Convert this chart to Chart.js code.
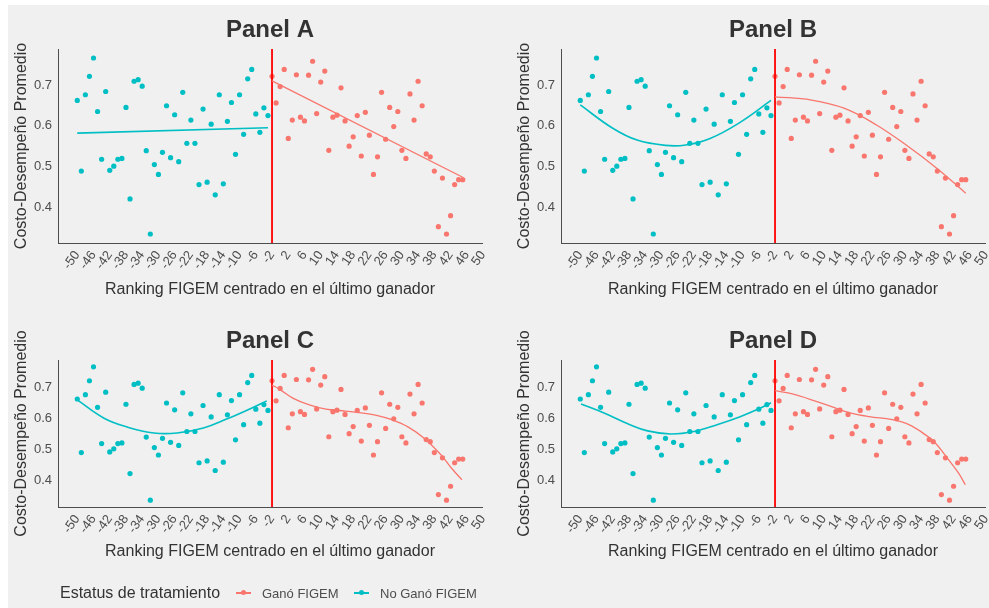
<!DOCTYPE html>
<html>
<head>
<meta charset="utf-8">
<script src="https://cdn.jsdelivr.net/npm/chart.js@4.4.0/dist/chart.umd.min.js"></script>
<style>
  html, body { margin: 0; padding: 0; width: 989px; height: 608px; overflow: hidden; background: #ffffff;
               font-family: "Liberation Sans", Arial, sans-serif; }
  #bg { position: absolute; left: 8px; top: 5px; width: 981px; height: 603px; background: #f0f0f0; }
  canvas.panel { position: absolute; }
  .lg { position: absolute; white-space: nowrap; line-height: 1; }
  .lg-title { left: 60px; top: 585px; font-size: 16px; color: #333333; }
  .lg-text { top: 587px; font-size: 13px; color: #4d4d4d; }
  .sw { position: absolute; top: 592px; width: 15px; height: 2px; }
  .sw i { position: absolute; left: 5px; top: -2px; width: 5px; height: 5px; border-radius: 50%; }
</style>
</head>
<body>
<div id="bg"></div>
<canvas id="pA" class="panel" width="486" height="310" style="left:0px;top:0px"></canvas>
<canvas id="pB" class="panel" width="486" height="310" style="left:503px;top:0px"></canvas>
<canvas id="pC" class="panel" width="486" height="297" style="left:0px;top:311px"></canvas>
<canvas id="pD" class="panel" width="486" height="297" style="left:503px;top:311px"></canvas>

<div class="lg lg-title">Estatus de tratamiento</div>
<div class="sw" style="left:236px;background:#F8766D"><i style="background:#F8766D"></i></div>
<div class="lg lg-text" style="left:262px">Ganó FIGEM</div>
<div class="sw" style="left:354px;background:#00BFC4"><i style="background:#00BFC4"></i></div>
<div class="lg lg-text" style="left:380px">No Ganó FIGEM</div>

<script>
// Ranking positions relative to the last winner
const rankNoWin = [-48,-47,-46,-45,-44,-43,-42,-41,-40,-39,-38,-37,-36,-35,-34,-33,-32,-31,-30,-29,-28,-27,-26,-25,
                   -24,-23,-22,-21,-20,-19,-18,-17,-16,-15,-14,-13,-12,-11,-10,-9,-8,-7,-6,-5,-4,-3,-2,-1];
const rankWin   = [0,1,2,3,4,5,6,7,8,9,10,11,12,13,14,15,16,17,18,19,20,21,22,23,
                   24,25,26,27,28,29,30,31,32,33,34,35,36,37,38,39,40,41,42,43,44,45,46,47];

// Average cost-performance per ranking position
const costNoWin = [0.662,0.489,0.676,0.721,0.766,0.635,0.518,0.684,0.491,0.501,0.518,0.520,0.645,0.421,0.709,0.713,
                   0.697,0.539,0.335,0.505,0.481,0.535,0.649,0.522,0.627,0.512,0.682,0.557,0.614,0.557,0.456,0.641,
                   0.462,0.604,0.431,0.676,0.458,0.611,0.657,0.530,0.676,0.579,0.715,0.738,0.629,0.584,0.644,0.625];
const costWin   = [0.721,0.656,0.696,0.738,0.569,0.614,0.725,0.621,0.612,0.724,0.758,0.630,0.707,0.734,0.540,0.621,
                   0.626,0.693,0.612,0.550,0.573,0.625,0.526,0.633,0.577,0.481,0.524,0.682,0.567,0.645,0.598,0.635,
                   0.540,0.520,0.678,0.614,0.709,0.649,0.531,0.524,0.489,0.353,0.472,0.335,0.380,0.456,0.468,0.468];

// Fitted curves for each panel (A: linear, B: quadratic, C: polynomial, D: local smoother)
const fitA_noWinX = [-48, -1];
const fitA_noWinY = [0.582, 0.595];
const fitA_winX   = [0, 47];
const fitA_winY   = [0.710, 0.474];

const fitB_noWinX = [-48, -40, -34, -27, -22, -16, -9, -1];
const fitB_noWinY = [0.651, 0.594, 0.565, 0.552, 0.553, 0.569, 0.606, 0.662];
const fitB_winX   = [0, 9, 17, 25, 33, 40, 47];
const fitB_winY   = [0.671, 0.663, 0.643, 0.602, 0.548, 0.495, 0.435];

const fitC_noWinX = [-48, -41.4, -35.6, -29.1, -23.4, -16.9, -11.2, -6.3, -1.3];
const fitC_noWinY = [0.659, 0.600, 0.571, 0.552, 0.552, 0.568, 0.597, 0.625, 0.656];
const fitC_winX   = [0, 1.8, 5.1, 9.2, 13.3, 17.3, 21.4, 25.5, 29.5, 33.6, 37.7, 41.8, 44.2, 46.8];
const fitC_winY   = [0.707, 0.694, 0.665, 0.643, 0.629, 0.624, 0.618, 0.610, 0.595, 0.571, 0.533, 0.479, 0.439, 0.401];

const fitD_noWinX = [-47.8, -42, -36.3, -31.4, -25.7, -20, -14.3, -8.6, -3.7, -1];
const fitD_noWinY = [0.646, 0.616, 0.582, 0.559, 0.549, 0.557, 0.579, 0.605, 0.632, 0.650];
const fitD_winX   = [0, 4.5, 8.6, 14.3, 18.3, 23.2, 28.9, 33, 37.1, 39.5, 42, 45.2, 46.9];
const fitD_winY   = [0.689, 0.678, 0.661, 0.636, 0.618, 0.605, 0.595, 0.579, 0.546, 0.520, 0.479, 0.423, 0.385];

// Axis ticks
const xTicks = [-50,-46,-42,-38,-34,-30,-26,-22,-18,-14,-10,-6,-2,2,6,10,14,18,22,26,30,34,38,42,46,50];
const yTicks = [0.4, 0.5, 0.6, 0.7];
const cutoff = 0;

const RED = '#F8766D', TEAL = '#00BFC4';
const X_MIN = -52.75, X_MAX = 51.75, Y_MIN = 0.313, Y_MAX = 0.788;
const FONT = '"Liberation Sans", Arial, sans-serif';

const pairs = (xs, ys) => xs.map((x, i) => ({ x: x, y: ys[i] }));

function makePanel(id, title, fit, geom) {
  const datasets = [
    { type: 'line', data: pairs(fit.wx, fit.wy), borderColor: RED, borderWidth: 1.3,
      pointRadius: 0, tension: fit.smooth ? 0.4 : 0, fill: false, order: 0 },
    { type: 'line', data: pairs(fit.nx, fit.ny), borderColor: TEAL, borderWidth: 1.6,
      pointRadius: 0, tension: fit.smooth ? 0.4 : 0, fill: false, order: 0 },
    { type: 'line', data: [{ x: cutoff, y: Y_MIN }, { x: cutoff, y: Y_MAX }], borderColor: '#FF0000',
      borderWidth: 1.8, pointRadius: 0, fill: false, order: 1 },
    { type: 'scatter', data: pairs(rankWin, costWin), backgroundColor: RED, borderWidth: 0,
      pointRadius: 2.6, order: 2 },
    { type: 'scatter', data: pairs(rankNoWin, costNoWin), backgroundColor: TEAL, borderWidth: 0,
      pointRadius: 2.6, order: 2 }
  ];
  return new Chart(document.getElementById(id), {
    type: 'scatter',
    data: { datasets: datasets },
    options: {
      responsive: false, animation: false, devicePixelRatio: 1,
      layout: { padding: { left: 0, right: 4, top: 0, bottom: 0 } },
      plugins: {
        legend: { display: false },
        tooltip: { enabled: false },
        title: { display: true, text: title, fullSize: false, align: 'center', color: '#333333',
                 font: { family: FONT, size: 24, weight: 'bold', lineHeight: 1.2 },
                 padding: { top: 16, bottom: 4.2 } }
      },
      scales: {
        x: {
          type: 'linear', min: X_MIN, max: X_MAX,
          afterBuildTicks: s => { s.ticks = xTicks.map(v => ({ value: v })); },
          afterFit: s => { s.height = geom.H - geom.plotBottom; s.paddingLeft = 0; s.paddingRight = 0; },
          grid: { display: false, drawTicks: false },
          border: { display: true, color: '#4d4d4d', width: 1 },
          ticks: { autoSkip: false, minRotation: 55, maxRotation: 55, padding: 5, labelOffset: 8,
                   color: '#4d4d4d', font: { family: FONT, size: 13 }, callback: v => String(v) },
          title: { display: true, text: 'Ranking FIGEM centrado en el último ganador', color: '#333333',
                   font: { family: FONT, size: 16, lineHeight: 1.2 },
                   padding: { top: 0, bottom: geom.xTitlePad } }
        },
        y: {
          type: 'linear', min: Y_MIN, max: Y_MAX,
          afterBuildTicks: s => { s.ticks = yTicks.map(v => ({ value: v })); },
          afterFit: s => { s.width = 58; },
          grid: { display: false, drawTicks: false },
          border: { display: true, color: '#4d4d4d', width: 1 },
          ticks: { padding: 6, color: '#4d4d4d', font: { family: FONT, size: 13 }, callback: v => v.toFixed(1) },
          title: { display: true, text: 'Costo-Desempeño Promedio', color: '#333333',
                   font: { family: FONT, size: 16, lineHeight: 1.2 }, padding: { top: 11.9, bottom: 0 } }
        }
      }
    }
  });
}

const topRow = { H: 310, plotBottom: 243, xTitlePad: 10.4 };
const bottomRow = { H: 297, plotBottom: 196, xTitlePad: 46.4 };

makePanel('pA', 'Panel A', { nx: fitA_noWinX, ny: fitA_noWinY, wx: fitA_winX, wy: fitA_winY, smooth: false }, topRow);
makePanel('pB', 'Panel B', { nx: fitB_noWinX, ny: fitB_noWinY, wx: fitB_winX, wy: fitB_winY, smooth: true }, topRow);
makePanel('pC', 'Panel C', { nx: fitC_noWinX, ny: fitC_noWinY, wx: fitC_winX, wy: fitC_winY, smooth: true }, bottomRow);
makePanel('pD', 'Panel D', { nx: fitD_noWinX, ny: fitD_noWinY, wx: fitD_winX, wy: fitD_winY, smooth: true }, bottomRow);
</script>
</body>
</html>
